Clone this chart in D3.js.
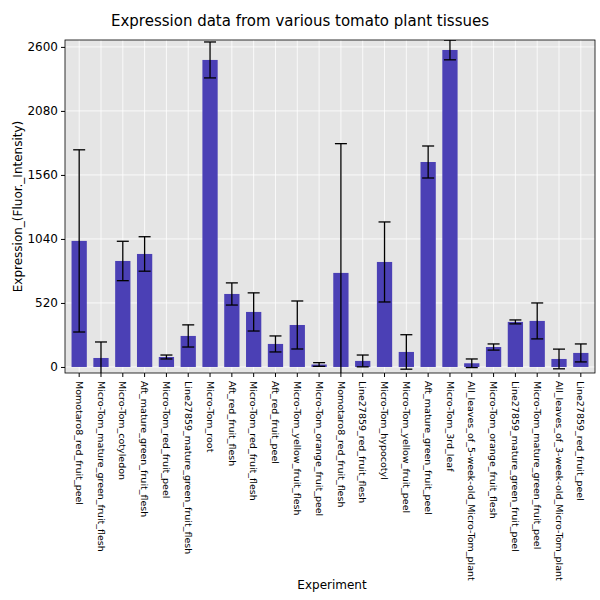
<!DOCTYPE html>
<html><head><meta charset="utf-8">
<script src="https://cdn.jsdelivr.net/npm/d3@7"></script>
<style>body{margin:0;background:#fff;font-family:"DejaVu Sans",sans-serif}</style>
</head><body><svg id="c" width="600" height="600"></svg>
<script>
const experiments = ['Momotaro8_red_fruit_peel','Micro-Tom_mature_green_fruit_flesh','Micro-Tom_cotyledon','Aft_mature_green_fruit_flesh','Micro-Tom_red_fruit_peel','Line27859_mature_green_fruit_flesh','Micro-Tom_root','Aft_red_fruit_flesh','Micro-Tom_red_fruit_flesh','Aft_red_fruit_peel','Micro-Tom_yellow_fruit_flesh','Micro-Tom_orange_fruit_peel','Momotaro8_red_fruit_flesh','Line27859_red_fruit_flesh','Micro-Tom_hypocotyl','Micro-Tom_yellow_fruit_peel','Aft_mature_green_fruit_peel','Micro-Tom_3rd_leaf','All_leaves_of_5-week-old_Micro-Tom_plant','Micro-Tom_orange_fruit_flesh','Line27859_mature_green_fruit_peel','Micro-Tom_mature_green_fruit_peel','All_leaves_of_3-week-old_Micro-Tom_plant','Line27859_red_fruit_peel']
const values = [1024,73,861,918,81,252,2494,593,447,187,341,20,764,49,853,122,1665,2575,30,162,366,374,65,114]
const errors = [740,130,160,140,16,90,146,90,155,65,195,15,1050,48,325,140,130,80,35,25,16,146,80,73]
const yTicks = [0,520,1040,1560,2080,2600]

const svg = d3.select('#c')
const m = {left: 65, right: 5, top: 40, bottom: 227}
const W = 600 - m.left - m.right, H = 600 - m.top - m.bottom
const g = svg.append('g').attr('transform', 'translate(' + m.left + ',' + m.top + ')')

const x = d3.scaleBand().domain(experiments).range([0, W]).padding(0.3)
const y = d3.scaleLinear().domain([-49, 2656]).range([H, 0])

g.append('rect').attr('width', W).attr('height', H).attr('fill', '#e5e5e5')
g.selectAll('.vg').data(experiments).enter().append('line')
  .attr('x1', d => x(d) + x.bandwidth() / 2).attr('x2', d => x(d) + x.bandwidth() / 2)
  .attr('y1', 0).attr('y2', H).attr('stroke', '#fff').attr('stroke-width', 0.8)
g.selectAll('.hg').data(yTicks).enter().append('line')
  .attr('x1', 0).attr('x2', W).attr('y1', d => y(d)).attr('y2', d => y(d))
  .attr('stroke', '#fff').attr('stroke-width', 0.8)

svg.append('clipPath').attr('id', 'pc').append('rect').attr('width', W).attr('height', H)
const pg = g.append('g').attr('clip-path', 'url(#pc)')
pg.selectAll('.bar').data(experiments).enter().append('rect')
  .attr('x', d => x(d)).attr('width', x.bandwidth())
  .attr('y', (d, i) => y(values[i])).attr('height', (d, i) => y(0) - y(values[i]))
  .attr('fill', '#4b40b5')
experiments.forEach((d, i) => {
  const cx = x(d) + x.bandwidth() / 2
  const hi = y(values[i] + errors[i]), lo = y(values[i] - errors[i])
  pg.append('line').attr('x1', cx).attr('x2', cx).attr('y1', hi).attr('y2', lo).attr('stroke', '#000').attr('stroke-width', 1.3)
  ;[hi, lo].forEach(v => pg.append('line').attr('x1', cx - 6).attr('x2', cx + 6).attr('y1', v).attr('y2', v).attr('stroke', '#000').attr('stroke-width', 1.3))
})

g.append('rect').attr('width', W).attr('height', H).attr('fill', 'none').attr('stroke', '#000').attr('stroke-width', 0.8)

const ya = g.append('g').call(d3.axisLeft(y).tickValues(yTicks).tickFormat(d3.format('d')).tickSize(4))
ya.selectAll('text').attr('font-size', 12).attr('font-family', 'DejaVu Sans').attr('fill', '#000')
ya.select('.domain').remove()
const xa = g.append('g').attr('transform', 'translate(0,' + H + ')').call(d3.axisBottom(x).tickSize(4))
xa.select('.domain').remove()
xa.selectAll('text').attr('font-size', 9.5).attr('font-family', 'DejaVu Sans').attr('fill', '#000')
  .attr('text-anchor', 'start').attr('transform', 'rotate(90)').attr('dy', '0.35em').attr('x', 8).attr('y', 0)

svg.append('text').attr('x', 300).attr('y', 26).attr('text-anchor', 'middle').attr('font-size', 15).text('Expression data from various tomato plant tissues')
svg.append('text').attr('x', 332).attr('y', 589).attr('text-anchor', 'middle').attr('font-size', 12).text('Experiment')
svg.append('text').attr('transform', 'translate(22,' + (m.top + H / 2) + ') rotate(-90)').attr('text-anchor', 'middle').attr('font-size', 12).text('Expression_(Fluor._Intensity)')
</script></body></html>
